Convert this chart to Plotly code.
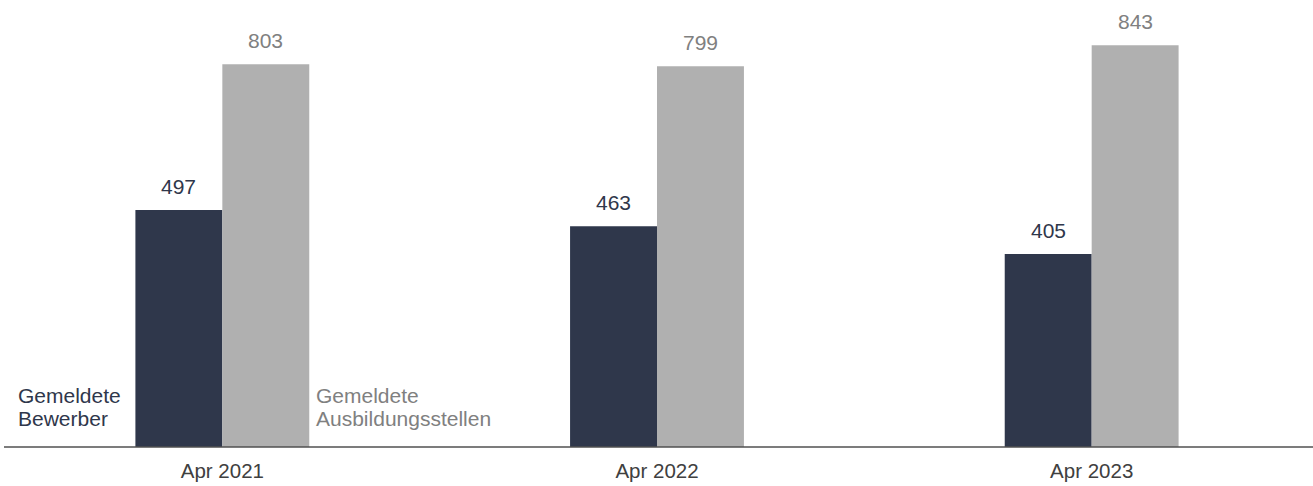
import plotly.graph_objects as go

categories = ["Apr 2021", "Apr 2022", "Apr 2023"]
bewerber = [497, 463, 405]
stellen = [803, 799, 843]
label_bewerber = ["Gemeldete", "Bewerber"]
label_stellen = ["Gemeldete", "Ausbildungsstellen"]

DARK = "#2f374b"
GREY_BAR = "#b0b0b0"
GREY_TXT = "#808080"
FONT = "Arial, Liberation Sans, sans-serif"
FS = 21

W, H = 1313, 486
ML, MR, MT, MB = 5, 4, 18, 36
PH = H - MT - MB
PW = W - ML - MR

fig = go.Figure()
fig.add_trace(go.Bar(x=categories, y=bewerber, marker=dict(color=DARK, line=dict(width=0)),
                     name="Gemeldete Bewerber", hoverinfo="skip"))
fig.add_trace(go.Bar(x=categories, y=stellen, marker=dict(color=GREY_BAR, line=dict(width=0)),
                     name="Gemeldete Ausbildungsstellen", hoverinfo="skip"))

annotations = []
for i, c in enumerate(categories):
    annotations.append(dict(x=c, y=bewerber[i], xref="x", yref="y", text=str(bewerber[i]),
                            showarrow=False, xanchor="center", yanchor="bottom", xshift=-43.5, yshift=10,
                            font=dict(family=FONT, size=FS, color=DARK)))
    annotations.append(dict(x=c, y=stellen[i], xref="x", yref="y", text=str(stellen[i]),
                            showarrow=False, xanchor="center", yanchor="bottom", xshift=43.5, yshift=10,
                            font=dict(family=FONT, size=FS, color=GREY_TXT)))

def ypaper(py):
    return (H - MB - py) / PH

line_centers = [398, 421]
for j, txt in enumerate(label_bewerber):
    annotations.append(dict(x=categories[0], y=ypaper(line_centers[j]), xref="x", yref="paper", text=txt,
                            showarrow=False, xanchor="left", yanchor="middle", align="left",
                            xshift=-206,
                            font=dict(family=FONT, size=FS, color=DARK)))
for j, txt in enumerate(label_stellen):
    annotations.append(dict(x=categories[0], y=ypaper(line_centers[j]), xref="x", yref="paper", text=txt,
                            showarrow=False, xanchor="left", yanchor="middle", align="left",
                            xshift=92,
                            font=dict(family=FONT, size=FS, color=GREY_TXT)))

fig.update_layout(
    width=W, height=H,
    margin=dict(l=ML, r=MR, t=MT, b=MB),
    paper_bgcolor="white", plot_bgcolor="white",
    barmode="group", bargap=0.6, bargroupgap=0,
    showlegend=False,
    annotations=annotations,
    font=dict(family=FONT, size=FS, color="#404040"),
    shapes=[dict(type="line", xref="paper", yref="paper",
                 x0=(4 - ML) / PW, x1=(W - ML) / PW, y0=0, y1=0,
                 line=dict(color="#505050", width=1.6))],
)
fig.update_xaxes(showline=False, showgrid=False, zeroline=False,
                 ticks="", ticklabelstandoff=9,
                 tickfont=dict(family=FONT, size=20.5, color="#404040"))
fig.update_yaxes(range=[0, 900], visible=False, showgrid=False, zeroline=False)

fig.write_html("out.html",
               config={"displayModeBar": False, "staticPlot": True},
               post_script="document.body.style.margin='0';document.body.style.overflow='hidden';")
